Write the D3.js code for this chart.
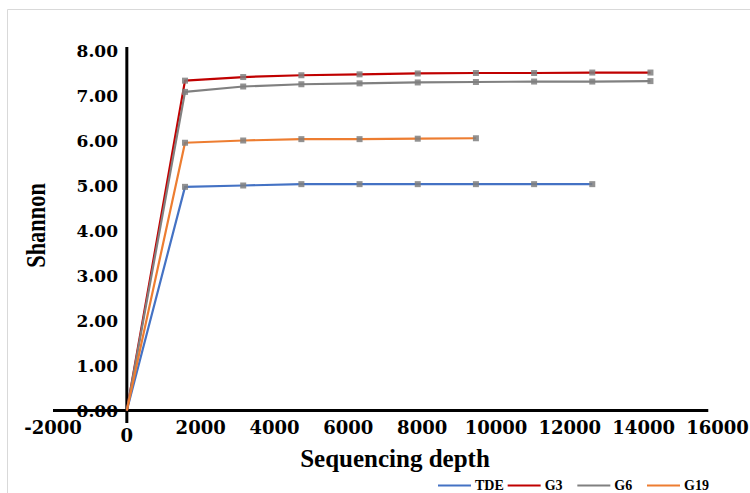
<!DOCTYPE html>
<html>
<head>
<meta charset="utf-8">
<script src="https://cdn.jsdelivr.net/npm/d3@7/dist/d3.min.js"></script>
<style>
  html, body { margin: 0; padding: 0; background: #fff; }
  svg { display: block; }
</style>
</head>
<body>
<svg id="chart" width="750" height="493"></svg>
<script>
// ---- data ----
const seriesNames = ["TDE", "G3", "G6", "G19"];
const seriesColors = ["#4472c4", "#c00000", "#808080", "#ed7d31"];
const depthTDE = [0, 1576, 3152, 4728, 6304, 7880, 9456, 11032, 12608];
const valuesTDE = [0, 4.97, 5.00, 5.03, 5.03, 5.03, 5.03, 5.03, 5.03];
const depthG3 = [0, 1576, 3152, 4728, 6304, 7880, 9456, 11032, 12608, 14184];
const valuesG3 = [0, 7.33, 7.41, 7.45, 7.47, 7.49, 7.50, 7.50, 7.51, 7.51];
const depthG6 = [0, 1576, 3152, 4728, 6304, 7880, 9456, 11032, 12608, 14184];
const valuesG6 = [0, 7.08, 7.20, 7.25, 7.27, 7.29, 7.30, 7.31, 7.31, 7.32];
const depthG19 = [0, 1576, 3152, 4728, 6304, 7880, 9456];
const valuesG19 = [0, 5.95, 6.00, 6.03, 6.03, 6.04, 6.05];
const xTicks = [-2000, 0, 2000, 4000, 6000, 8000, 10000, 12000, 14000, 16000];
const yTicks = [0, 1, 2, 3, 4, 5, 6, 7, 8];
const xAxisEnd = 15750;

const series = [
  { name: "TDE", x: depthTDE, y: valuesTDE },
  { name: "G3", x: depthG3, y: valuesG3 },
  { name: "G6", x: depthG6, y: valuesG6 },
  { name: "G19", x: depthG19, y: valuesG19 }
];

const svg = d3.select("#chart");
const x = d3.scaleLinear().domain([-2000, 16000]).range([53, 717.5]);
const y = d3.scaleLinear().domain([0, 8]).range([410.5, 50.5]);
const color = d3.scaleOrdinal().domain(seriesNames).range(seriesColors);

// outer frame
svg.append("path")
  .attr("d", "M7.5,493 V9.5 H750")
  .attr("fill", "none").attr("stroke", "#d9d9d9").attr("stroke-width", 1);

const tickFont = "'DejaVu Serif', serif";

// y tick labels
svg.append("g").selectAll("text").data(yTicks).join("text")
  .attr("x", 118).attr("y", d => y(d) + 6)
  .attr("text-anchor", "end")
  .attr("font-family", tickFont).attr("font-weight", "bold")
  .attr("font-size", 17).attr("fill", "#000")
  .text(d => d3.format(".2f")(d));

// x tick labels
svg.append("g").selectAll("text").data(xTicks).join("text")
  .attr("x", d => x(d)).attr("y", d => d === 0 ? 442 : 434)
  .attr("text-anchor", "middle")
  .attr("font-family", tickFont).attr("font-weight", "bold")
  .attr("font-size", 18).attr("fill", "#000")
  .text(d => d);

// axes lines
svg.append("line")
  .attr("x1", x(-2000)).attr("x2", x(xAxisEnd))
  .attr("y1", y(0)).attr("y2", y(0))
  .attr("stroke", "#000").attr("stroke-width", 3);
svg.append("line")
  .attr("x1", x(0)).attr("x2", x(0))
  .attr("y1", y(8.08)).attr("y2", y(-0.28))
  .attr("stroke", "#000").attr("stroke-width", 3);

// lines
const line = d3.line().x(d => x(d[0])).y(d => y(d[1]));
series.forEach(s => {
  const pts = s.x.map((v, i) => [v, s.y[i]]);
  svg.append("path")
    .datum(pts)
    .attr("d", line)
    .attr("fill", "none")
    .attr("stroke", color(s.name))
    .attr("stroke-width", 2.2)
    .attr("stroke-linejoin", "round");
});
// markers
series.forEach(s => {
  const pts = s.x.map((v, i) => [v, s.y[i]]).slice(1);
  const g = svg.append("g");
  g.selectAll("rect").data(pts).join("rect")
    .attr("x", d => x(d[0]) - 3).attr("y", d => y(d[1]) - 3)
    .attr("width", 6).attr("height", 6)
    .attr("fill", "#7f7f7f").attr("fill-opacity", 0.85);
});

// axis titles
svg.append("text")
  .attr("transform", `translate(45,${(183 + 268) / 2}) rotate(-90) scale(0.8,1)`)
  .attr("text-anchor", "middle")
  .attr("font-family", "'Liberation Serif', 'Times New Roman', serif")
  .attr("font-weight", "bold").attr("font-size", 28)
  .text("Shannon");
svg.append("text")
  .attr("x", 395).attr("y", 467)
  .attr("text-anchor", "middle")
  .attr("font-family", "'Liberation Serif', 'Times New Roman', serif")
  .attr("font-weight", "bold").attr("font-size", 25)
  .text("Sequencing depth");

// legend
const legX = d3.scalePoint().domain(seriesNames).range([438, 647]);
const leg = svg.append("g").selectAll("g").data(seriesNames).join("g")
  .attr("transform", d => `translate(${legX(d)},0)`);
leg.append("line")
  .attr("x1", 0).attr("x2", 33).attr("y1", 485.5).attr("y2", 485.5)
  .attr("stroke", d => color(d)).attr("stroke-width", 2.2);
leg.append("text")
  .attr("x", 37).attr("y", 490)
  .attr("font-family", "'Liberation Serif', 'Times New Roman', serif")
  .attr("font-weight", "bold").attr("font-size", 14)
  .text(d => d);
</script>
</body>
</html>
